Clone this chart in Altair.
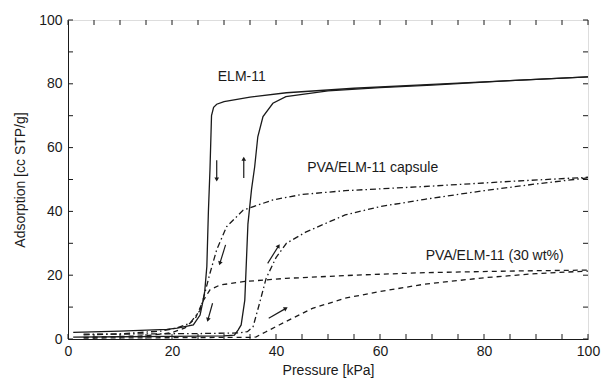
import math
import altair as alt
import pandas as pd

# ELM-11 (solid)
elm_des_x = [100, 85, 70, 55, 42, 35, 30, 28.6, 28.0, 27.6, 27.3, 27.0, 26.7, 26.3, 26.0, 25.4, 24.1, 21.0, 19.0, 10.0, 1.0]
elm_des_y = [82.2, 81.0, 79.8, 78.6, 77.2, 75.8, 74.4, 73.6, 72.6, 70.0, 53.0, 40.0, 22.7, 15.0, 12.2, 7.5, 4.4, 3.4, 3.0, 2.5, 2.1]
elm_ads_x = [1.0, 10.0, 20.0, 30.0, 32.0, 32.7, 33.3, 34.0, 34.6, 35.3, 35.9, 36.5, 37.5, 39.4, 41.9, 50.0, 60.0, 70.0, 85.0, 100]
elm_ads_y = [0.6, 0.7, 0.8, 1.0, 1.2, 2.8, 4.4, 12.2, 36.0, 47.0, 54.0, 63.4, 69.7, 73.9, 76.0, 77.8, 78.8, 79.6, 81.0, 82.2]

# PVA/ELM-11 capsule (dash-dot)
cap_des_x = [3.0, 10.0, 18.0, 21.0, 23.5, 25.4, 26.3, 27.3, 28.6, 30.5, 33.7, 39.4, 45.0, 53.3, 68.6, 85.0, 100]
cap_des_y = [1.3, 1.6, 2.5, 3.5, 5.0, 9.0, 14.3, 20.6, 28.0, 35.2, 40.4, 43.6, 45.3, 46.5, 47.8, 49.4, 50.7]
cap_ads_x = [3.0, 15.0, 25.0, 33.0, 34.5, 35.6, 36.8, 38.1, 40.0, 42.0, 45.7, 53.3, 60.0, 68.6, 80.0, 90.0, 100]
cap_ads_y = [1.5, 1.6, 1.7, 1.9, 2.3, 3.9, 11.0, 19.0, 25.5, 30.0, 33.5, 38.9, 41.5, 43.8, 46.5, 48.6, 50.5]

# PVA/ELM-11 (30 wt%) (dashed)
wt_des_x = [3.0, 15.0, 20.0, 22.5, 24.5, 26.0, 27.3, 29.2, 33.7, 41.9, 55.0, 68.6, 85.0, 100]
wt_des_y = [0.5, 1.0, 2.0, 3.5, 6.5, 12.0, 15.4, 16.9, 18.0, 19.0, 20.0, 20.8, 21.3, 21.6]
wt_ads_x = [3.0, 20.0, 30.0, 35.5, 36.2, 38.0, 40.6, 47.0, 53.3, 59.7, 68.6, 80.0, 90.0, 100]
wt_ads_y = [0.3, 0.4, 0.5, 0.5, 0.7, 2.2, 4.4, 9.6, 12.8, 14.8, 17.2, 19.2, 20.5, 21.3]

# Arrows (start x, start y, end x, end y)
arr_x0 = [28.6, 33.8, 30.3, 27.8, 38.4, 38.6]
arr_y0 = [56.0, 50.5, 29.5, 11.2, 23.7, 6.5]
arr_x1 = [28.6, 33.8, 29.2, 26.9, 40.5, 41.9]
arr_y1 = [50.0, 56.5, 23.7, 6.0, 29.2, 9.6]

# Labels
lab_text = ["ELM-11", "PVA/ELM-11 capsule", "PVA/ELM-11 (30 wt%)"]
lab_x = [28.8, 46.0, 68.8]
lab_y = [82.2, 53.6, 26.0]

x_ticks = list(range(0, 101, 5))
y_ticks = list(range(0, 101, 10))
major = [0, 20, 40, 60, 80, 100]

W, H = 520, 319
FONT = "Liberation Sans"
INK = "#1a1a1a"

def branch(xs, ys, name):
    return pd.DataFrame({"x": xs, "y": ys, "branch": name, "i": range(len(xs))})

elm = pd.concat([branch(elm_des_x, elm_des_y, "d"), branch(elm_ads_x, elm_ads_y, "a")])
cap = pd.concat([branch(cap_des_x, cap_des_y, "d"), branch(cap_ads_x, cap_ads_y, "a")])
wt = pd.concat([branch(wt_des_x, wt_des_y, "d"), branch(wt_ads_x, wt_ads_y, "a")])

xs = alt.Scale(domain=[0, 100], nice=False)
ys = alt.Scale(domain=[0, 100], nice=False)
X = alt.X("x:Q", scale=xs, axis=alt.Axis(values=major, tickSize=0, labelPadding=5, labelFontSize=14,
            labelFont=FONT, labelColor=INK, labelFlush=False, title="Pressure [kPa]", titleFont=FONT,
            titleFontSize=14, titleFontWeight="normal", titleColor=INK, titlePadding=5,
            domainColor=INK, grid=False))
Y = alt.Y("y:Q", scale=ys, axis=alt.Axis(values=major, tickSize=0, labelPadding=6, labelFontSize=14,
            labelFont=FONT, labelColor=INK, labelFlush=False, title="Adsorption [cc STP/g]", titleFont=FONT,
            titleFontSize=14, titleFontWeight="normal", titleColor=INK, titlePadding=11,
            domainColor=INK, grid=False))

def lines(df, dash):
    kw = dict(color=INK, strokeWidth=1.3, clip=True)
    if dash:
        kw["strokeDash"] = dash
    return alt.Chart(df).mark_line(**kw).encode(x=X, y=Y, detail="branch:N", order="i:Q")

l1 = lines(elm, None)
l2 = lines(cap, [6, 3, 1.5, 3])
l3 = lines(wt, [5, 4])

# arrows
ang = []
for a, b, c, d in zip(arr_x0, arr_y0, arr_x1, arr_y1):
    dx = (c - a) * W / 100
    dy = -(d - b) * H / 100
    ang.append(math.degrees(math.atan2(dx, -dy)) % 360)
arr = pd.DataFrame({"x": arr_x0, "y": arr_y0, "x2": arr_x1, "y2": arr_y1, "ang": ang})
shaft = alt.Chart(arr).mark_rule(color=INK, strokeWidth=1.2).encode(
    x=alt.X("x:Q", scale=xs), y=alt.Y("y:Q", scale=ys), x2="x2:Q", y2="y2:Q")
head = alt.Chart(arr).mark_point(shape="triangle-up", filled=True, color=INK, opacity=1, size=22).encode(
    x=alt.X("x2:Q", scale=xs), y=alt.Y("y2:Q", scale=ys), angle=alt.Angle("ang:Q", scale=None))

labels = pd.DataFrame({"t": lab_text, "x": lab_x, "y": lab_y})
txt = alt.Chart(labels).mark_text(align="left", baseline="middle", font=FONT, fontSize=14, color=INK).encode(
    x=alt.X("x:Q", scale=xs), y=alt.Y("y:Q", scale=ys), text="t:N")

# inward ticks on all four sides
xt = pd.DataFrame({"x": x_ticks})
yt = pd.DataFrame({"y": y_ticks})
tb = alt.Chart(xt).mark_rule(color=INK, strokeWidth=1).encode(
    x=alt.X("x:Q", scale=xs), y=alt.value(H), y2=alt.value(H - 5))
tt = alt.Chart(xt).mark_rule(color=INK, strokeWidth=1).encode(
    x=alt.X("x:Q", scale=xs), y=alt.value(0), y2=alt.value(5))
tl = alt.Chart(yt).mark_rule(color=INK, strokeWidth=1).encode(
    y=alt.Y("y:Q", scale=ys), x=alt.value(0), x2=alt.value(5))
tr = alt.Chart(yt).mark_rule(color=INK, strokeWidth=1).encode(
    y=alt.Y("y:Q", scale=ys), x=alt.value(W), x2=alt.value(W - 5))

chart = alt.layer(l1, l2, l3, shaft, head, txt, tb, tt, tl, tr).properties(
    width=W, height=H, autosize="none",
    padding={"left": 60, "top": 12, "right": 13, "bottom": 40},
).configure_view(stroke=INK, strokeWidth=1.5).configure(background="white")

chart.save("out.html", embed_options={"renderer": "svg", "actions": False})
